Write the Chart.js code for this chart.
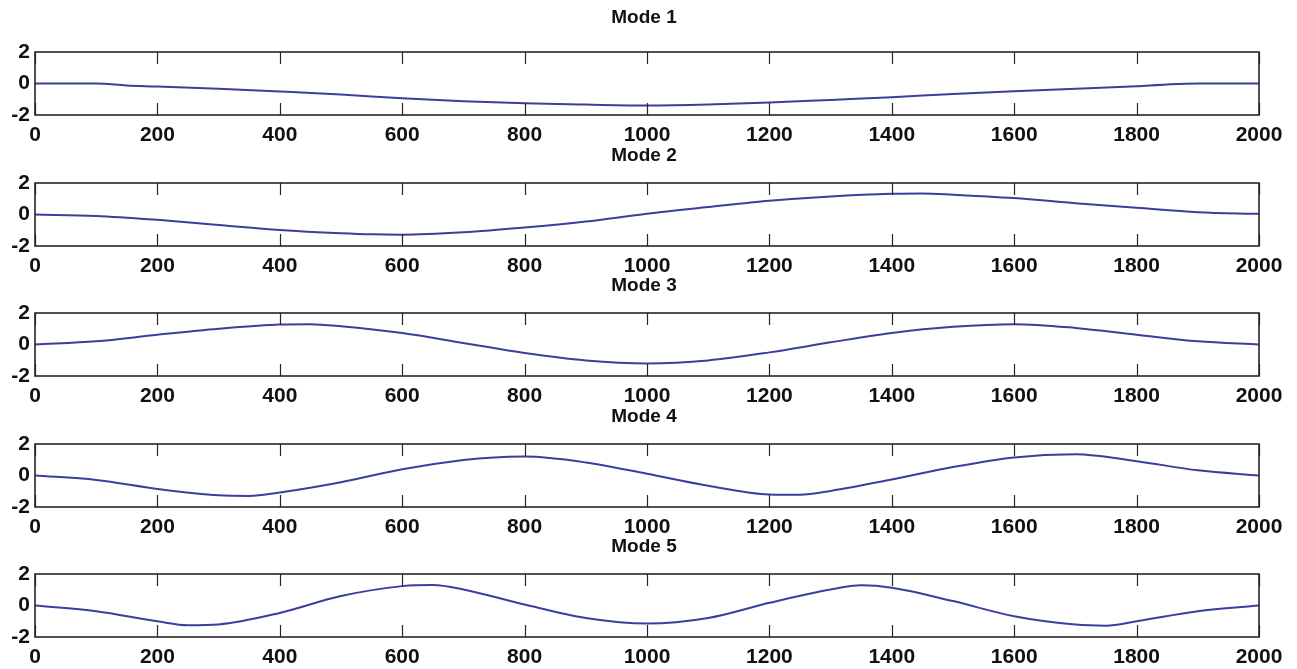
<!DOCTYPE html>
<html>
<head>
  <title>Modes</title>
  <script src="https://cdn.jsdelivr.net/npm/chart.js"></script>
  <style>
    body {
      margin: 0;
      background-color: white;
    }

    .figure {
      position: relative;
      width: 1297px;
      height: 669px;
      overflow: hidden;
    }

    .figure canvas {
      position: absolute;
      left: 0;
    }
  </style>
</head>
<body>
  <div class="figure" id="figure"></div>

  <script>
    // Data
    const modeTitles = ['Mode 1', 'Mode 2', 'Mode 3', 'Mode 4', 'Mode 5'];
    const xTicks = [0, 200, 400, 600, 800, 1000, 1200, 1400, 1600, 1800, 2000];
    const yTicks = [-2, 0, 2];

    const mode1X = [0, 100, 150, 200, 300, 400, 500, 600, 700, 800, 900, 1000, 1100, 1200, 1300, 1400, 1500, 1600, 1700, 1800, 1850, 1900, 2000];
    const mode1Y = [0, 0, -0.13, -0.19, -0.34, -0.51, -0.70, -0.94, -1.13, -1.26, -1.34, -1.40, -1.34, -1.21, -1.04, -0.87, -0.66, -0.49, -0.34, -0.17, -0.06, 0, 0];

    const mode2X = [0, 100, 200, 300, 400, 500, 550, 600, 700, 800, 900, 1000, 1100, 1200, 1300, 1400, 1450, 1500, 1600, 1700, 1800, 1900, 2000];
    const mode2Y = [0, -0.09, -0.34, -0.66, -0.98, -1.19, -1.26, -1.28, -1.13, -0.83, -0.45, 0.05, 0.47, 0.87, 1.15, 1.32, 1.34, 1.26, 1.04, 0.72, 0.43, 0.15, 0.04];

    const mode3X = [0, 100, 200, 300, 400, 450, 500, 600, 700, 800, 900, 1000, 1100, 1200, 1300, 1400, 1500, 1600, 1700, 1800, 1900, 2000];
    const mode3Y = [0, 0.2, 0.62, 1.0, 1.27, 1.29, 1.16, 0.73, 0.1, -0.54, -1.01, -1.2, -1.01, -0.5, 0.14, 0.73, 1.12, 1.29, 1.05, 0.62, 0.2, 0];

    const mode4X = [0, 100, 200, 300, 350, 400, 500, 600, 700, 750, 800, 900, 1000, 1100, 1200, 1250, 1300, 1400, 1500, 1600, 1700, 1800, 1900, 2000];
    const mode4Y = [0, -0.28, -0.85, -1.26, -1.3, -1.08, -0.43, 0.39, 0.98, 1.15, 1.2, 0.83, 0.11, -0.65, -1.2, -1.22, -0.98, -0.26, 0.54, 1.15, 1.35, 0.91, 0.33, 0];

    const mode5X = [0, 100, 200, 250, 300, 400, 500, 600, 650, 700, 800, 900, 1000, 1100, 1200, 1300, 1350, 1400, 1500, 1600, 1700, 1750, 1800, 1900, 2000];
    const mode5Y = [0, -0.36, -1.0, -1.25, -1.2, -0.47, 0.6, 1.23, 1.3, 1.02, 0.06, -0.79, -1.15, -0.79, 0.17, 1.02, 1.28, 1.13, 0.28, -0.68, -1.21, -1.28, -1.0, -0.36, 0];

    const modesX = [mode1X, mode2X, mode3X, mode4X, mode5X];
    const modesY = [mode1Y, mode2Y, mode3Y, mode4Y, mode5Y];

    // Layout of the five axes boxes (top edge of each plot area)
    const boxTops = [52, 182.5, 313, 443.5, 574];
    const boxHeight = 63;
    const above = 45;
    const canvasHeight = 138;

    const fontFamily = "'Liberation Sans', Arial, Helvetica, sans-serif";
    const lineColor = '#3a3f9e';
    const frameColor = '#262626';
    const textColor = '#111';

    // Matlab-like frame with inward tick marks, and the axes title
    const framePlugin = {
      id: 'frame',
      afterDraw(chart, args, opts) {
        const ctx = chart.ctx;
        const a = chart.chartArea;
        const x = chart.scales.x;
        ctx.save();
        ctx.strokeStyle = frameColor;
        ctx.lineWidth = 1.2;
        ctx.beginPath();
        for (const v of xTicks) {
          const px = Math.round(x.getPixelForValue(v)) + 0.5;
          ctx.moveTo(px, a.top);
          ctx.lineTo(px, a.top + 12);
          ctx.moveTo(px, a.bottom);
          ctx.lineTo(px, a.bottom - 12);
        }
        ctx.stroke();
        ctx.lineWidth = 1.6;
        ctx.strokeRect(a.left, a.top, a.right - a.left, a.bottom - a.top);

        ctx.fillStyle = textColor;
        ctx.font = 'bold 19px ' + fontFamily;
        ctx.textAlign = 'center';
        ctx.textBaseline = 'middle';
        ctx.fillText(opts.text, (a.left + a.right) / 2 - 3, a.top - opts.gap);
        ctx.restore();
      }
    };

    const figure = document.getElementById('figure');

    modeTitles.forEach((title, i) => {
      const canvas = document.createElement('canvas');
      canvas.width = 1297;
      canvas.height = canvasHeight;
      canvas.style.top = (boxTops[i] - above) + 'px';
      figure.appendChild(canvas);

      const points = modesX[i].map((xv, j) => ({ x: xv, y: modesY[i][j] }));

      new Chart(canvas.getContext('2d'), {
        type: 'line',
        data: {
          datasets: [{
            data: points,
            borderColor: lineColor,
            borderWidth: 2,
            pointRadius: 0,
            cubicInterpolationMode: 'monotone',
            fill: false
          }]
        },
        options: {
          responsive: false,
          animation: false,
          devicePixelRatio: 1,
          layout: {
            padding: { left: 0, right: 38, top: above, bottom: 0 }
          },
          scales: {
            x: {
              type: 'linear',
              min: 0,
              max: 2000,
              afterBuildTicks(scale) {
                scale.ticks = xTicks.map(v => ({ value: v }));
              },
              afterFit(scale) {
                scale.height = canvasHeight - above - boxHeight;
              },
              grid: { display: false, drawTicks: false },
              border: { display: false },
              ticks: {
                padding: 8,
                maxRotation: 0,
                autoSkip: false,
                color: textColor,
                font: { family: fontFamily, size: 21, weight: 'bold' },
                callback: v => String(v)
              }
            },
            y: {
              min: -2,
              max: 2,
              afterBuildTicks(scale) {
                scale.ticks = yTicks.map(v => ({ value: v }));
              },
              afterFit(scale) {
                scale.width = 35;
              },
              grid: { display: false, drawTicks: false },
              border: { display: false },
              ticks: {
                padding: 5,
                color: textColor,
                font: { family: fontFamily, size: 21, weight: 'bold' },
                callback: v => String(v)
              }
            }
          },
          plugins: {
            legend: { display: false },
            tooltip: { enabled: false },
            title: { display: false },
            frame: { text: title, gap: i === 0 ? 34 : 27 }
          }
        },
        plugins: [framePlugin]
      });
    });
  </script>
</body>
</html>
